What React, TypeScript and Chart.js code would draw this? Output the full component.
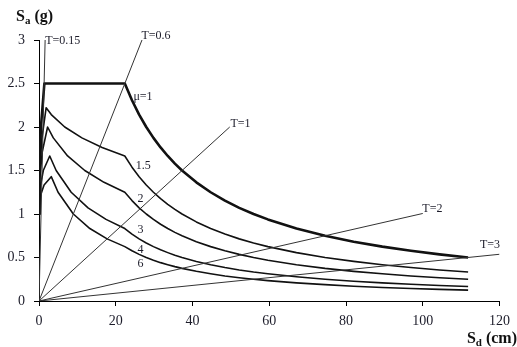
import React, { useEffect, useRef } from "react";
import { Chart, registerables } from "chart.js";

Chart.register(...registerables);

// Elastic spectrum (mu = 1)
const sdMu1 = [0, 0.09, 0.5, 1.4, 22.36, 24.23, 26.09, 27.95, 29.82, 31.68, 33.55, 35.41, 37.27, 41.0, 44.73, 48.45, 52.18, 55.91, 59.64, 67.09, 74.55, 82.0, 89.46, 96.91, 104.37, 111.82];
const saMu1 = [1, 1.5, 2.0, 2.5, 2.5, 2.308, 2.143, 2.0, 1.875, 1.765, 1.667, 1.579, 1.5, 1.364, 1.25, 1.154, 1.071, 1.0, 0.938, 0.833, 0.75, 0.682, 0.625, 0.577, 0.536, 0.5];

// Inelastic spectra
const sdMu15 = [0, 0.134, 0.688, 1.864, 3.195, 6.709, 11.18, 16.44, 22.36, 24.23, 26.09, 27.95, 29.82, 31.68, 33.55, 35.41, 37.27, 41.0, 44.73, 48.45, 52.18, 55.91, 59.64, 67.09, 74.55, 82.0, 89.46, 96.91, 104.37, 111.82];
const saMu15 = [1, 1.44, 1.846, 2.222, 2.143, 2.0, 1.875, 1.765, 1.667, 1.538, 1.429, 1.333, 1.25, 1.176, 1.111, 1.053, 1.0, 0.909, 0.833, 0.769, 0.714, 0.667, 0.625, 0.556, 0.5, 0.455, 0.417, 0.385, 0.357, 0.333];

const sdMu2 = [0, 0.172, 0.852, 2.237, 3.728, 7.455, 11.93, 16.94, 22.36, 24.23, 26.09, 27.95, 29.82, 31.68, 33.55, 35.41, 37.27, 41.0, 44.73, 48.45, 52.18, 55.91, 59.64, 67.09, 74.55, 82.0, 89.46, 96.91, 104.37, 111.82];
const saMu2 = [1, 1.385, 1.714, 2.0, 1.875, 1.667, 1.5, 1.364, 1.25, 1.154, 1.071, 1.0, 0.938, 0.882, 0.833, 0.789, 0.75, 0.682, 0.625, 0.577, 0.536, 0.5, 0.469, 0.417, 0.375, 0.341, 0.313, 0.288, 0.268, 0.25];

const sdMu3 = [0, 0.239, 1.118, 2.796, 4.473, 8.387, 12.78, 17.47, 22.36, 24.23, 26.09, 27.95, 29.82, 31.68, 33.55, 35.41, 37.27, 41.0, 44.73, 48.45, 52.18, 55.91, 59.64, 67.09, 74.55, 82.0, 89.46, 96.91, 104.37, 111.82];
const saMu3 = [1, 1.286, 1.5, 1.667, 1.5, 1.25, 1.071, 0.938, 0.833, 0.769, 0.714, 0.667, 0.625, 0.588, 0.556, 0.526, 0.5, 0.455, 0.417, 0.385, 0.357, 0.333, 0.313, 0.278, 0.25, 0.227, 0.208, 0.192, 0.179, 0.167];

const sdMu4 = [0, 0.298, 1.325, 3.195, 4.97, 8.946, 13.25, 17.75, 22.36, 24.23, 26.09, 27.95, 29.82, 31.68, 33.55, 35.41, 37.27, 41.0, 44.73, 48.45, 52.18, 55.91, 59.64, 67.09, 74.55, 82.0, 89.46, 96.91, 104.37, 111.82];
const saMu4 = [1, 1.2, 1.333, 1.429, 1.25, 1.0, 0.833, 0.714, 0.625, 0.577, 0.536, 0.5, 0.469, 0.441, 0.417, 0.395, 0.375, 0.341, 0.313, 0.288, 0.268, 0.25, 0.234, 0.208, 0.188, 0.17, 0.156, 0.144, 0.134, 0.125];

// Constant-period radial lines (from origin to end point)
const periodNames = ["T=0.15", "T=0.6", "T=1", "T=2", "T=3"];
const periodEndSd = [1.6, 26.84, 49.7, 100, 120];
const periodEndSa = [3.0, 3.0, 2.0, 1.006, 0.537];

// Text labels (anchor in data units, left-aligned, vertically centred)
const labelTexts = ["T=0.15", "T=0.6", "μ=1", "T=1", "1.5", "2", "3", "4", "6", "T=2", "T=3"];
const labelSd = [1.6, 26.7, 24.6, 49.9, 25.2, 25.7, 25.7, 25.7, 25.7, 99.9, 114.9];
const labelSa = [2.99, 3.05, 2.35, 2.04, 1.55, 1.17, 0.815, 0.587, 0.428, 1.065, 0.64];

// Axis ticks
const xTickMax = 120;
const xTickStep = 20;
const yTickMax = 3;
const yTickStep = 0.5;

const pts = (xs: number[], ys: number[]) => xs.map((x, i) => ({ x, y: ys[i] }));

export default function App() {
  const ref = useRef<HTMLCanvasElement | null>(null);

  useEffect(() => {
    document.body.style.margin = "0";
    const canvas = ref.current;
    if (!canvas) return;

    const serif = "'Liberation Serif', 'DejaVu Serif', serif";

    const textPlugin = {
      id: "textLabels",
      afterDraw(chart: any) {
        const ctx = chart.ctx;
        const xs = chart.scales.x;
        const ys = chart.scales.y;
        ctx.save();
        ctx.fillStyle = "#1c1c2a";
        ctx.font = `12px ${serif}`;
        ctx.textAlign = "left";
        ctx.textBaseline = "middle";
        labelTexts.forEach((t, i) => {
          ctx.fillText(t, xs.getPixelForValue(labelSd[i]), ys.getPixelForValue(labelSa[i]));
        });
        const drawTitle = (main: string, sub: string, rest: string, x: number, y: number, align: string) => {
          ctx.textBaseline = "alphabetic";
          ctx.font = `bold 16px ${serif}`;
          const w1 = ctx.measureText(main).width;
          ctx.font = `bold 11px ${serif}`;
          const w2 = ctx.measureText(sub).width;
          ctx.font = `bold 16px ${serif}`;
          const w3 = ctx.measureText(rest).width;
          const sx = align === "right" ? x - (w1 + w2 + w3) : x;
          ctx.textAlign = "left";
          ctx.fillStyle = "#111";
          ctx.font = `bold 16px ${serif}`;
          ctx.fillText(main, sx, y);
          ctx.font = `bold 11px ${serif}`;
          ctx.fillText(sub, sx + w1, y + 3);
          ctx.font = `bold 16px ${serif}`;
          ctx.fillText(rest, sx + w1 + w2, y);
        };
        drawTitle("S", "a", " (g)", 16, 21, "left");
        drawTitle("S", "d", " (cm)", 517, 343, "right");
        ctx.restore();
      },
    };

    const curveStyle = (w: number) => ({
      showLine: true,
      borderColor: "#111",
      borderWidth: w,
      pointRadius: 0,
      fill: false,
      tension: 0,
      borderJoinStyle: "round",
    });

    const periodSets = periodNames.map((name, i) => ({
      label: name,
      data: [{ x: 0, y: 0 }, { x: periodEndSd[i], y: periodEndSa[i] }],
      ...curveStyle(1),
      borderColor: "#333",
    }));

    const chart = new Chart(canvas, {
      type: "scatter",
      data: {
        datasets: [
          ...periodSets,
          { label: "μ=1", data: pts(sdMu1, saMu1), ...curveStyle(2.6) },
          { label: "μ=1.5", data: pts(sdMu15, saMu15), ...curveStyle(1.6) },
          { label: "μ=2", data: pts(sdMu2, saMu2), ...curveStyle(1.6) },
          { label: "μ=3", data: pts(sdMu3, saMu3), ...curveStyle(1.6) },
          { label: "μ=4", data: pts(sdMu4, saMu4), ...curveStyle(1.6) },
        ] as any,
      },
      options: {
        responsive: false,
        animation: false,
        layout: { padding: { top: 40, right: 10, left: 0, bottom: 0 } },
        plugins: {
          legend: { display: false },
          tooltip: { enabled: false },
          title: { display: false },
        },
        scales: {
          x: {
            type: "linear",
            min: 0,
            max: xTickMax,
            afterFit: (s: any) => {
              s.height = 46;
            },
            ticks: {
              stepSize: xTickStep,
              color: "#1c1c2a",
              font: { family: serif, size: 14 },
              padding: 7,
              maxRotation: 0,
            },
            grid: {
              drawOnChartArea: false,
              drawTicks: true,
              tickLength: 5,
              color: "#000",
              tickColor: "#000",
            },
            border: { display: true, color: "#000", width: 1 },
          },
          y: {
            type: "linear",
            min: 0,
            max: yTickMax,
            afterFit: (s: any) => {
              s.width = 39;
            },
            ticks: {
              stepSize: yTickStep,
              color: "#1c1c2a",
              font: { family: serif, size: 14 },
              padding: 9,
              callback: (v: any) => String(Math.round(Number(v) * 10) / 10),
            },
            grid: {
              drawOnChartArea: false,
              drawTicks: true,
              tickLength: 5,
              color: "#000",
              tickColor: "#000",
            },
            border: { display: true, color: "#000", width: 1 },
          },
        },
      },
      plugins: [textPlugin],
    });

    return () => chart.destroy();
  }, []);

  return (
    <div style={{ width: 517, height: 347, background: "#fff" }}>
      <canvas ref={ref} width={517} height={347} />
    </div>
  );
}
